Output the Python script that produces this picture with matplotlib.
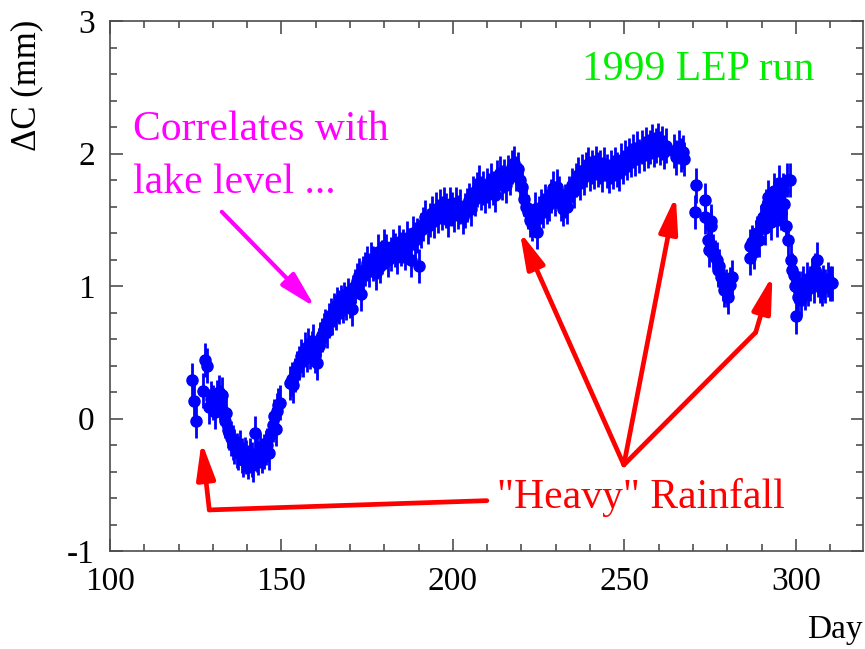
import matplotlib.pyplot as plt
import numpy as np

plt.rcParams['font.family'] = ['Liberation Serif', 'DejaVu Serif']
plt.rcParams['axes.unicode_minus'] = False

# day of year and Delta C (mm)
day_a = [124.0, 124.6, 125.0, 127.0, 127.8, 128.2, 128.8, 129.5, 130.0, 130.6,
         131.2, 131.8, 132.2, 132.6, 133.0, 133.4, 133.8, 134.3, 134.8, 135.3,
         135.8, 136.3, 136.9, 137.4, 137.9, 138.4, 138.9, 139.4, 139.8, 140.3,
         140.8, 141.3, 141.8, 142.2, 142.8, 143.3, 143.8, 144.3, 144.8, 145.4,
         145.9, 146.4, 147.0, 147.4, 147.9, 148.3, 148.7, 149.1, 149.6]
dc_a = [0.29, 0.13, -0.02, 0.21, 0.44, 0.40, 0.09, 0.15, 0.12, 0.05,
        0.16, 0.20, 0.12, 0.18, 0.06, -0.02, 0.04, -0.09, -0.11, -0.15,
        -0.18, -0.21, -0.24, -0.26, -0.22, -0.28, -0.31, -0.27, -0.29, -0.33,
        -0.28, -0.31, -0.35, -0.11, -0.27, -0.30, -0.24, -0.28, -0.25, -0.22,
        -0.20, -0.26, -0.12, -0.05, 0.02, -0.08, 0.06, 0.10, 0.12]

day_b = [152.5, 153.0, 153.5, 154.0, 154.6, 155.2, 155.8, 156.3, 156.8, 157.3,
         157.8, 158.3, 158.8, 159.3, 159.8, 160.3, 160.8, 161.3, 161.8, 162.3,
         162.8, 163.3, 163.8, 164.3, 164.8, 165.3, 165.8, 166.3, 166.8, 167.3,
         167.8, 168.3, 168.8, 169.4, 170.0, 170.5, 171.0, 171.5, 172.0, 172.6,
         173.2, 173.7, 174.3, 174.9, 175.5, 176.1, 176.8, 177.5, 178.2, 178.8,
         179.4, 180.0, 180.6, 181.2, 181.8, 182.4, 183.0, 183.6, 184.2, 184.8,
         185.4, 186.0, 186.6, 187.2, 187.8, 188.4, 189.0, 189.6, 190.2, 190.8,
         191.4, 192.0, 192.6, 193.2, 193.8, 194.4, 195.0, 195.6, 196.2, 196.8,
         197.4, 198.0, 198.6, 199.2, 199.8]
dc_b = [0.27, 0.30, 0.25, 0.33, 0.38, 0.42, 0.47, 0.44, 0.52, 0.48,
        0.55, 0.50, 0.53, 0.58, 0.47, 0.42, 0.55, 0.60, 0.63, 0.67,
        0.70, 0.66, 0.74, 0.78, 0.76, 0.82, 0.80, 0.86, 0.84, 0.88,
        0.85, 0.90, 0.87, 0.93, 0.89, 0.83, 0.95, 1.00, 1.04, 1.08,
        0.94, 1.10, 1.13, 1.17, 1.12, 1.20, 1.17, 1.10, 1.26, 1.15,
        1.22, 1.30, 1.26, 1.20, 1.24, 1.30, 1.27, 1.22, 1.33, 1.28,
        1.30, 1.25, 1.36, 1.31, 1.20, 1.40, 1.35, 1.38, 1.15, 1.42,
        1.47, 1.52, 1.45, 1.50, 1.55, 1.49, 1.58, 1.53, 1.60, 1.55,
        1.62, 1.57, 1.50, 1.62, 1.58]

day_c = [200.4, 201.0, 201.6, 202.2, 202.8, 203.4, 204.0, 204.6, 205.2, 205.8,
         206.4, 207.0, 207.6, 208.2, 208.8, 209.4, 210.0, 210.6, 211.2, 211.8,
         212.4, 213.0, 213.6, 214.2, 214.8, 215.4, 216.0, 216.6, 217.2, 217.8,
         218.4, 219.0, 219.6, 220.2, 220.8, 221.4, 222.0, 222.6, 223.2, 223.8,
         224.4, 225.0, 225.6, 226.2, 226.8, 227.4, 228.0, 228.6, 229.2, 229.8,
         230.4, 231.0, 231.6, 232.2, 232.8, 233.4, 234.0, 234.6, 235.2, 235.8,
         236.4, 237.0, 237.6, 238.2, 238.8, 239.4, 240.0, 240.6, 241.2, 241.8,
         242.4, 243.0, 243.6, 244.2, 244.8, 245.4, 246.0, 246.6, 247.2, 247.8,
         248.4, 249.0, 249.6, 250.2, 250.8, 251.4, 252.0, 252.6, 253.2, 253.8,
         254.4, 255.0, 255.6, 256.2, 256.8, 257.4, 258.0, 258.6, 259.2, 259.8,
         260.4, 261.0, 261.6, 262.2, 264.5, 265.2, 265.8, 266.4, 267.0, 267.5]
dc_c = [1.54, 1.62, 1.56, 1.60, 1.52, 1.57, 1.61, 1.65, 1.58, 1.70,
        1.66, 1.73, 1.78, 1.70, 1.74, 1.68, 1.76, 1.72, 1.80, 1.74,
        1.69, 1.82, 1.85, 1.78, 1.83, 1.76, 1.86, 1.82, 1.90, 1.93,
        1.85, 1.88, 1.80, 1.75, 1.66, 1.60, 1.56, 1.50, 1.47, 1.58,
        1.41, 1.55, 1.60, 1.57, 1.64, 1.60, 1.62, 1.68, 1.74, 1.66,
        1.75, 1.70, 1.62, 1.58, 1.64, 1.60, 1.70, 1.76, 1.72, 1.80,
        1.84, 1.78, 1.87, 1.82, 1.88, 1.92, 1.85, 1.90, 1.86, 1.93,
        1.88, 1.90, 1.84, 1.92, 1.87, 1.83, 1.90, 1.86, 1.92, 1.88,
        1.85, 1.95, 1.90, 1.97, 1.93, 1.99, 1.95, 2.02, 1.96, 2.04,
        1.98, 2.05, 2.00, 2.07, 2.02, 2.05, 2.09, 2.03, 2.06, 2.10,
        2.04, 2.08, 2.01, 2.06, 2.02, 1.97, 2.05, 1.99, 2.01, 1.96]

day_d = [270.6, 270.9, 273.5, 273.6, 274.3, 274.6, 275.3, 275.4, 275.9, 276.3,
         276.9, 277.3, 277.7, 278.3, 278.7, 279.1, 279.5, 279.8, 280.3, 280.7,
         281.3]
dc_d = [1.56, 1.76, 1.65, 1.52, 1.35, 1.27, 1.45, 1.49, 1.26, 1.22,
        1.20, 1.12, 1.15, 1.07, 1.02, 0.97, 1.00, 0.97, 0.92, 1.01,
        1.07]

day_e = [286.5, 286.7, 287.2, 287.7, 288.3, 288.8, 289.3, 289.9, 290.4, 290.9,
         291.4, 291.9, 292.3, 292.8, 293.2, 293.7, 294.1, 294.6, 295.0, 295.4,
         295.8, 296.2, 296.6, 297.0, 297.4, 297.8, 298.2, 298.6, 299.0, 299.4,
         299.8, 300.2, 300.6, 301.0, 301.4, 301.8, 302.2, 302.7, 303.2, 303.7,
         304.2, 304.7, 305.2, 305.7, 306.1, 306.5, 307.0, 307.5, 308.0, 308.6,
         309.3, 310.0, 310.7]
dc_e = [1.30, 1.21, 1.33, 1.26, 1.37, 1.40, 1.35, 1.48, 1.52, 1.44,
        1.60, 1.67, 1.55, 1.48, 1.62, 1.72, 1.58, 1.50, 1.78, 1.65,
        1.55, 1.72, 1.62, 1.45, 1.80, 1.35, 1.80, 1.20, 1.12, 1.08,
        1.00, 0.77, 0.92, 0.98, 0.90, 0.98, 1.02, 0.95, 1.05, 0.98,
        1.02, 1.08, 1.00, 1.12, 1.20, 1.05, 1.00, 0.98, 1.03, 1.00,
        1.05, 1.02, 1.02]

day = day_a + day_b + day_c + day_d + day_e
dc = dc_a + dc_b + dc_c + dc_d + dc_e
dc_err = 0.13

fig = plt.figure(figsize=(8.65, 6.49), dpi=100)
ax = fig.add_axes([0.1272, 0.151, 0.8705, 0.8166])

ax.errorbar(day, dc, yerr=dc_err, fmt='o', color='blue', ms=8,
            elinewidth=2, capsize=0, zorder=3)

ax.set_xlim(100, 319.6)
ax.set_ylim(-1, 3)
ax.set_xticks([100, 150, 200, 250, 300])
ax.set_xticks(np.arange(100, 320, 10), minor=True)
ax.set_yticks([-1, 0, 1, 2, 3])
ax.set_yticks(np.arange(-1, 3.01, 0.2), minor=True)
ax.tick_params(which='both', direction='in', top=True, right=True,
               labelsize=24, colors='0.25', labelcolor='black', width=1.1)
ax.tick_params(which='major', length=9, pad=11)
ax.tick_params(which='minor', length=5)
for s in ax.spines.values():
    s.set_color('0.3')
    s.set_linewidth(1.2)

fig.text(27 / 865, 0.969, '\u0394C (mm)', rotation=90, ha='center', va='top',
         fontsize=25)
fig.text(0.9977, 0.017, 'Day', ha='right', va='baseline', fontsize=24)

# annotations
ax.text(237.6, 2.555, '1999 LEP run', color='#00ee00', fontsize=30,
        ha='left', va='baseline')
ax.text(106.7, 2.10, 'Correlates with', color='magenta', fontsize=30,
        ha='left', va='baseline')
ax.text(106.7, 1.70, 'lake level ...', color='magenta', fontsize=30,
        ha='left', va='baseline')
ax.text(212.8, -0.676, '"Heavy" Rainfall', color='red', fontsize=30,
        ha='left', va='baseline')

head = '-|>,head_length=1.1,head_width=0.28'
ax.annotate('', xy=(159.8, 0.84), xytext=(132.6, 1.56),
            arrowprops=dict(arrowstyle=head, color='magenta', lw=3,
                            mutation_scale=20, shrinkA=0, shrinkB=0))

red = dict(arrowstyle=head, color='red', lw=3.4, mutation_scale=20,
           shrinkA=0, shrinkB=0)
vx, vy = 249.85, -0.35
ax.annotate('', xy=(219.5, 1.41), xytext=(vx, vy), arrowprops=red)
ax.annotate('', xy=(265.0, 1.68), xytext=(vx, vy), arrowprops=red)
ax.plot([vx, 288.3], [vy, 0.65], color='red', lw=3.4, solid_capstyle='round')
ax.annotate('', xy=(293.2, 1.08), xytext=(288.3, 0.65), arrowprops=red)
ax.plot([209.9, 128.95], [-0.62, -0.69], color='red', lw=3.4,
        solid_capstyle='round')
ax.annotate('', xy=(126.7, -0.175), xytext=(128.95, -0.69), arrowprops=red)

fig.savefig('out.png', dpi=100)
